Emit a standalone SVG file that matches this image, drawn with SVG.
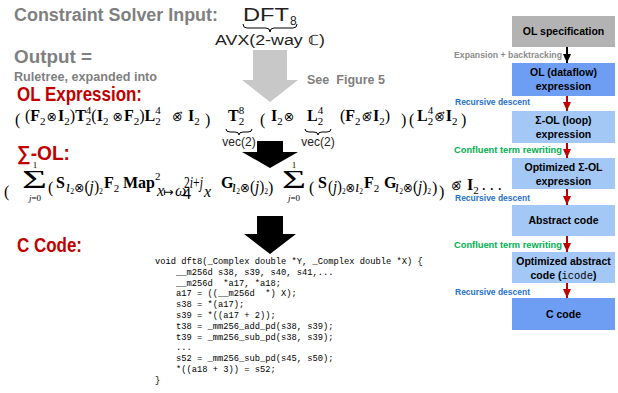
<svg xmlns="http://www.w3.org/2000/svg" width="618" height="393" viewBox="0 0 618 393">
<defs>
<style>
.lbl{font-family:"Liberation Sans",Arial,sans-serif;font-weight:bold}
.gray{fill:#7f7f7f}
.red{fill:#c00000}
.m{font-family:"Liberation Serif","Times New Roman",serif;font-size:16px;fill:#000}
.b{font-weight:bold}
.i{font-style:italic}
.s{font-size:11px}
.ss{font-size:8px}
.op{font-family:"DejaVu Sans",sans-serif;font-size:12.5px}
.sig{font-family:"Liberation Serif",serif;font-size:25px}
.lim{font-family:"Liberation Serif",serif;font-size:9px;text-anchor:middle}
.sans{font-family:"Liberation Sans",Arial,sans-serif;fill:#222}
.brace{fill:none;stroke:#000;stroke-width:1}
.code{font-family:"Liberation Mono","Courier New",monospace;font-size:8.75px;fill:#000}
.bt{font-family:"Liberation Sans",Arial,sans-serif;font-weight:bold;font-size:10.5px;text-anchor:middle;fill:#000}
.fl{font-family:"Liberation Sans",Arial,sans-serif;font-weight:bold;font-size:9px}
.conn{stroke-width:2;fill:none}
</style>
<marker id="hk" markerUnits="userSpaceOnUse" markerWidth="9" markerHeight="8" refX="9" refY="4" orient="auto"><path d="M0,0 L9,4 L0,8 z" fill="#000"/></marker>
<marker id="hr" markerUnits="userSpaceOnUse" markerWidth="9" markerHeight="8" refX="9" refY="4" orient="auto"><path d="M0,0 L9,4 L0,8 z" fill="#c00000"/></marker>
</defs>
<rect width="618" height="393" fill="#fff"/>

<!-- left labels -->
<g id="labels">
<text class="lbl gray" x="14" y="21" font-size="18" textLength="204" lengthAdjust="spacingAndGlyphs">Constraint Solver Input:</text>
<text class="lbl gray" x="14" y="63" font-size="18" textLength="78" lengthAdjust="spacingAndGlyphs">Output =</text>
<text class="lbl gray" x="14" y="81" font-size="12" textLength="143" lengthAdjust="spacingAndGlyphs">Ruletree, expanded into</text>
<text class="lbl gray" x="307" y="84" font-size="13" textLength="78" lengthAdjust="spacingAndGlyphs" xml:space="preserve">See  Figure 5</text>
<text class="lbl red" x="17" y="101" font-size="20" textLength="125" lengthAdjust="spacingAndGlyphs">OL Expression:</text>
<text class="lbl red" x="17" y="160" font-size="20" textLength="53" lengthAdjust="spacingAndGlyphs">∑-OL:</text>
<text class="lbl red" x="17" y="252" font-size="20" textLength="65" lengthAdjust="spacingAndGlyphs">C Code:</text>
</g>

<!-- input spec -->
<g id="input">
<text class="sans" x="243" y="21" font-size="18" textLength="46" lengthAdjust="spacingAndGlyphs">DFT</text>
<text class="sans" x="290" y="25" font-size="12">8</text>
<path class="brace" d="M243,24 Q243,28 247,28 L266,28 Q270,28 270,32 Q270,28 274,28 L293,28 Q297,28 297,24"/>
<text class="sans" x="215" y="45" font-size="14" textLength="110" lengthAdjust="spacingAndGlyphs">AVX(2-way ℂ)</text>
</g>

<!-- OL expression -->
<g id="ol-expr">
<text class="m" x="15" y="125" font-size="26">(</text>
<text class="m" y="121"><tspan x="25">(</tspan><tspan class="b">F</tspan><tspan class="s" dy="4">2</tspan><tspan class="op" dy="-4" dx="1">⊗</tspan><tspan class="b" dx="1">I</tspan><tspan class="s" dy="4">2</tspan><tspan dy="-4">)</tspan><tspan class="b">T</tspan><tspan class="s" dy="4">2</tspan><tspan class="s" dx="-5.5" dy="-11">4</tspan><tspan dy="7">(</tspan><tspan class="b">I</tspan><tspan class="s" dy="4">2</tspan><tspan class="op" dy="-4" dx="4">⊗</tspan><tspan class="b" dx="1">F</tspan><tspan class="s" dy="4">2</tspan><tspan dy="-4">)</tspan><tspan class="b">L</tspan><tspan class="s" dy="4">2</tspan><tspan class="s" dx="-5.5" dy="-11">4</tspan><tspan class="op" dy="7" x="172">⊗⃗</tspan><tspan class="b" x="188">I</tspan><tspan class="s" dy="4">2</tspan></text>
<text class="m" x="205" y="125" font-size="26">)</text>
<text class="m" y="121"><tspan class="b" x="228">T</tspan><tspan class="s" dy="4">2</tspan><tspan class="s" dx="-5.5" dy="-11">8</tspan></text>
<path class="brace" d="M226,129 Q226,132 230,132 L235,132 Q239,132 239,135 Q239,132 243,132 L248,132 Q252,132 252,129"/>
<text class="sans" x="239" y="146" font-size="12" text-anchor="middle">vec(2)</text>
<text class="m" x="260" y="125" font-size="26">(</text>
<text class="m" y="121"><tspan class="b" x="271">I</tspan><tspan class="s" dy="4">2</tspan><tspan class="op" dy="-4" dx="1">⊗</tspan></text>
<text class="m" y="121"><tspan class="b" x="307">L</tspan><tspan class="s" dy="4">2</tspan><tspan class="s" dx="-5.5" dy="-11">4</tspan></text>
<path class="brace" d="M305,129 Q305,132 309,132 L314,132 Q318,132 318,135 Q318,132 322,132 L327,132 Q331,132 331,129"/>
<text class="sans" x="318" y="146" font-size="12" text-anchor="middle">vec(2)</text>
<text class="m" y="121"><tspan x="340">(</tspan><tspan class="b">F</tspan><tspan class="s" dy="4">2</tspan><tspan class="op" dy="-4" dx="1">⊗⃗</tspan><tspan class="b" dx="1">I</tspan><tspan class="s" dy="4">2</tspan><tspan dy="-4">)</tspan></text>
<text class="m" x="401" y="125" font-size="26">)</text>
<text class="m" x="409" y="125" font-size="26">(</text>
<text class="m" y="121"><tspan class="b" x="417">L</tspan><tspan class="s" dy="4">2</tspan><tspan class="s" dx="-5.5" dy="-11">4</tspan><tspan class="op" dy="7" dx="1">⊗⃗</tspan><tspan class="b" dx="1">I</tspan><tspan class="s" dy="4">2</tspan></text>
<text class="m" x="461" y="125" font-size="26">)</text>
</g>

<!-- Sigma-OL expression -->
<g id="sigma-expr">
<text class="m" x="4" y="197" font-size="36">(</text>
<text class="sig" x="22" y="188" textLength="25" lengthAdjust="spacingAndGlyphs">Σ</text>
<text class="lim" x="35" y="168">1</text>
<text class="lim" x="35" y="201"><tspan class="i">j</tspan>=0</text>
<text class="m" x="48" y="193" font-size="22">(</text>
<text class="m b" x="56" y="188">S</text>
<text class="m" x="66" y="192" font-size="10" textLength="37" lengthAdjust="spacingAndGlyphs"><tspan class="i">ı</tspan><tspan class="ss" dy="2">2</tspan><tspan class="op" font-size="8" dy="-2">⊗</tspan>(<tspan class="i">j</tspan>)<tspan class="ss" dy="2">2</tspan></text>
<text class="m" y="188"><tspan class="b" x="104">F</tspan><tspan class="s" dy="4">2</tspan><tspan class="b" x="123" dy="-4">Map</tspan><tspan class="s" dy="-8">2</tspan></text>
<text class="m" y="196" font-size="10"><tspan class="i" x="157">x</tspan><tspan class="op" font-size="10" x="163">↦</tspan><tspan class="i" x="175">ω</tspan></text>
<text class="m" x="183" y="199" font-size="7">4</text>
<text class="m" x="184" y="188" font-size="7" textLength="19" lengthAdjust="spacingAndGlyphs">2<tspan class="i">i</tspan>+<tspan class="i">j</tspan></text>
<text class="m i" x="204" y="197" font-size="9">x</text>
<text class="m b" x="221" y="188">G</text>
<text class="m" x="232" y="192" font-size="10" textLength="36" lengthAdjust="spacingAndGlyphs"><tspan class="i">ı</tspan><tspan class="ss" dy="2">2</tspan><tspan class="op" font-size="8" dy="-2">⊗</tspan>(<tspan class="i">j</tspan>)<tspan class="ss" dy="2">2</tspan></text>
<text class="m" x="268" y="193" font-size="22">)</text>
<text class="sig" x="282" y="188" textLength="24" lengthAdjust="spacingAndGlyphs">Σ</text>
<text class="lim" x="294" y="168">1</text>
<text class="lim" x="294" y="201"><tspan class="i">j</tspan>=0</text>
<text class="m" x="309" y="193" font-size="22">(</text>
<text class="m b" x="318" y="188">S</text>
<text class="m" x="328" y="192" font-size="10" textLength="35" lengthAdjust="spacingAndGlyphs">(<tspan class="i">j</tspan>)<tspan class="ss" dy="2">2</tspan><tspan class="op" font-size="8" dy="-2">⊗</tspan><tspan class="i">ı</tspan><tspan class="ss" dy="2">2</tspan></text>
<text class="m" y="188"><tspan class="b" x="364">F</tspan><tspan class="s" dy="4">2</tspan></text>
<text class="m b" x="384" y="188">G</text>
<text class="m" x="395" y="192" font-size="10" textLength="36" lengthAdjust="spacingAndGlyphs"><tspan class="i">ı</tspan><tspan class="ss" dy="2">2</tspan><tspan class="op" font-size="8" dy="-2">⊗</tspan>(<tspan class="i">j</tspan>)<tspan class="ss" dy="2">2</tspan></text>
<text class="m" x="432" y="193" font-size="22">)</text>
<text class="m" x="439" y="197" font-size="36">)</text>
<text class="m" y="190"><tspan class="op" x="451" font-size="13">⊗⃗</tspan><tspan class="b" x="467">I</tspan><tspan class="s" dy="4">2</tspan><tspan dy="-4" dx="3">. . .</tspan></text>
</g>

<!-- C code -->
<g id="c-code">
<text class="code" xml:space="preserve"><tspan x="155" y="264">void dft8(_Complex double *Y, _Complex double *X) {</tspan><tspan x="176" y="274.8">__m256d s38, s39, s40, s41,...</tspan><tspan x="176" y="285.6">__m256d  *a17, *a18;</tspan><tspan x="176" y="296.4">a17 = ((__m256d  *) X);</tspan><tspan x="176" y="307.2">s38 = *(a17);</tspan><tspan x="176" y="318">s39 = *((a17 + 2));</tspan><tspan x="176" y="328.8">t38 = _mm256_add_pd(s38, s39);</tspan><tspan x="176" y="339.6">t39 = _mm256_sub_pd(s38, s39);</tspan><tspan x="176" y="350.4">...</tspan><tspan x="176" y="361.2">s52 = _mm256_sub_pd(s45, s50);</tspan><tspan x="176" y="372">*((a18 + 3)) = s52;</tspan><tspan x="155" y="382.8">}</tspan></text>
</g>

<!-- flowchart nodes -->
<g id="n-olspec"><rect x="512" y="16" width="103" height="31" fill="#b3b3b3"/><text class="bt" x="563.5" y="35">OL specification</text></g>
<g id="n-ol"><rect x="512" y="63" width="103" height="33" fill="#6d9ef3"/><text class="bt" x="563.5" y="76">OL (dataflow)</text><text class="bt" x="563.5" y="90">expression</text></g>
<g id="n-sigma"><rect x="512" y="111" width="103" height="32" fill="#a3c8f6"/><text class="bt" x="563.5" y="124">Σ-OL (loop)</text><text class="bt" x="563.5" y="138">expression</text></g>
<g id="n-optsigma"><rect x="512" y="158" width="103" height="31" fill="#a3c8f6"/><text class="bt" x="563.5" y="171">Optimized Σ-OL</text><text class="bt" x="563.5" y="185">expression</text></g>
<g id="n-abstract"><rect x="512" y="205" width="103" height="31" fill="#a3c8f6"/><text class="bt" x="563.5" y="224">Abstract code</text></g>
<g id="n-icode"><rect x="512" y="252" width="103" height="31" fill="#a3c8f6"/><text class="bt" x="563.5" y="265">Optimized abstract</text><text class="bt" x="563.5" y="279">code (<tspan font-family="Liberation Mono,monospace" font-weight="normal">icode</tspan>)</text></g>
<g id="n-ccode"><rect x="512" y="298" width="103" height="32" fill="#6d9ef3"/><text class="bt" x="563.5" y="318">C code</text></g>

<!-- connectors -->
<g id="connectors">
<polygon points="253,50 287,50 287,80 298,80 270,102 242,80 253,80" fill="#c8c8c8"/>
<polygon points="257,141 283,141 283,152 298,152 270,168 242,152 257,152" fill="#000"/>
<polygon points="257,216 283,216 283,234 296,234 270,254 244,234 257,234" fill="#000"/>
<line class="conn" x1="567" y1="47" x2="567" y2="63" stroke="#000" marker-end="url(#hk)"/>
<line class="conn" x1="567" y1="96" x2="567" y2="111" stroke="#c00000" marker-end="url(#hr)"/>
<line class="conn" x1="567" y1="143" x2="567" y2="158" stroke="#c00000" marker-end="url(#hr)"/>
<line class="conn" x1="567" y1="189" x2="567" y2="205" stroke="#c00000" marker-end="url(#hr)"/>
<line class="conn" x1="567" y1="236" x2="567" y2="252" stroke="#c00000" marker-end="url(#hr)"/>
<line class="conn" x1="567" y1="283" x2="567" y2="298" stroke="#c00000" marker-end="url(#hr)"/>
<text class="fl" x="454" y="58" fill="#8c8c8c" textLength="108" lengthAdjust="spacingAndGlyphs">Expansion + backtracking</text>
<text class="fl" x="455" y="105" fill="#1f70d0" textLength="75" lengthAdjust="spacingAndGlyphs">Recursive descent</text>
<text class="fl" x="454" y="153" fill="#00b050" textLength="108" lengthAdjust="spacingAndGlyphs">Confluent term rewriting</text>
<text class="fl" x="455" y="201" fill="#1f70d0" textLength="75" lengthAdjust="spacingAndGlyphs">Recursive descent</text>
<text class="fl" x="454" y="248" fill="#00b050" textLength="108" lengthAdjust="spacingAndGlyphs">Confluent term rewriting</text>
<text class="fl" x="455" y="295" fill="#1f70d0" textLength="75" lengthAdjust="spacingAndGlyphs">Recursive descent</text>
</g>
</svg>
